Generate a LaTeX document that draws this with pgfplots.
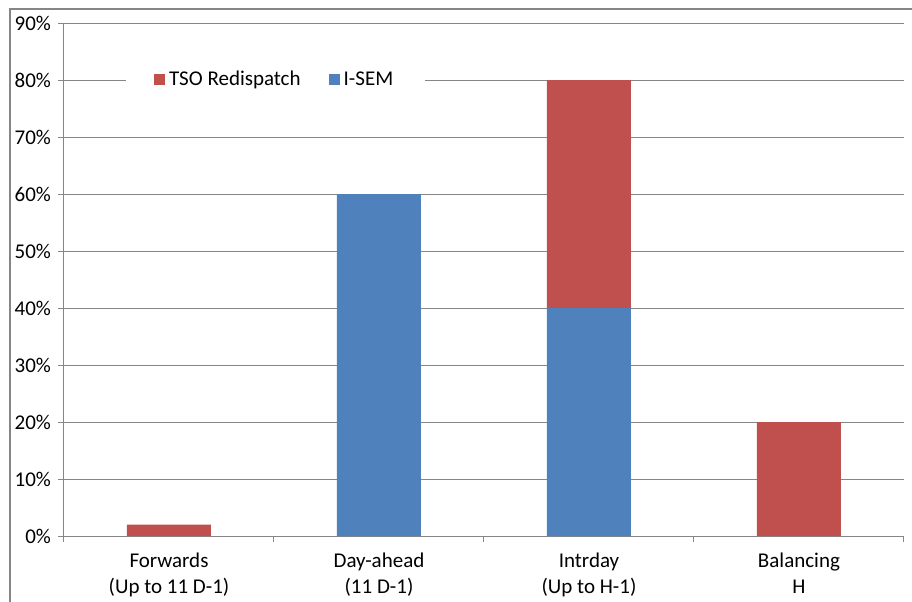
\documentclass[border=0pt]{standalone}
\usepackage{pgfplots}
\pgfplotsset{compat=1.18}
\usepackage{fontspec}
\setmainfont{Carlito}
\definecolor{tsored}{RGB}{192,80,77}
\definecolor{isemblue}{RGB}{79,129,189}
\definecolor{gridgray}{RGB}{134,134,134}
\begin{document}
\begin{tikzpicture}
\useasboundingbox (0,0) rectangle (456pt,300.5pt);
\draw[gridgray, line width=0.6pt] (5pt,-2pt) -- (5pt,296pt) -- (460pt,296pt);
\begin{axis}[
  at={(32pt,32.5pt)}, anchor=south west,
  scale only axis, width=420pt, height=256.5pt,
  xmin=-0.5, xmax=3.5, ymin=0, ymax=90,
  ybar stacked, bar width=42pt,
  axis x line*=bottom, axis y line*=left,
  axis line style={gridgray, line width=0.5pt},
  xtick={0,1,2,3},
  xticklabels={{Forwards\\(Up to 11 D-1)},{Day-ahead\\(11 D-1)},{Intrday\\(Up to H-1)},{Balancing\\H}},
  xticklabel style={align=center, font=\fontsize{10.5}{13}\selectfont, yshift=-2pt},
  major x tick style={draw=none},
  minor xtick={-0.5,0.5,1.5,2.5,3.5},
  minor x tick style={gridgray, line width=0.5pt},
  ytick={0,10,...,90},
  yticklabel={\pgfmathprintnumber{\tick}\%},
  yticklabel style={font=\fontsize{10.5}{12}\selectfont},
  /pgf/number format/assume math mode=true,
  ytick style={gridgray, line width=0.5pt},
  tick align=outside, major tick length=3pt, minor tick length=3pt,
  ymajorgrids, grid style={gridgray, line width=0.5pt},
  legend style={at={(0.252,0.889)}, anchor=center, draw=none, fill=white,
    legend columns=2, font=\fontsize{10.5}{12}\selectfont,
    /tikz/every even column/.append style={column sep=12pt},
    inner xsep=14pt, inner ysep=2pt},
  legend image code/.code={\fill (0pt,-2.75pt) rectangle (5.5pt,2.75pt);},
]
\addlegendimage{fill=tsored, draw=none}
\addlegendentry{TSO Redispatch}
\addlegendimage{fill=isemblue, draw=none}
\addlegendentry{I-SEM}
\addplot[fill=isemblue, draw=none, forget plot] coordinates {(0,0) (1,60) (2,40) (3,0)};
\addplot[fill=tsored, draw=none, forget plot] coordinates {(0,2) (1,0) (2,40) (3,20)};
\end{axis}
\end{tikzpicture}
\end{document}
